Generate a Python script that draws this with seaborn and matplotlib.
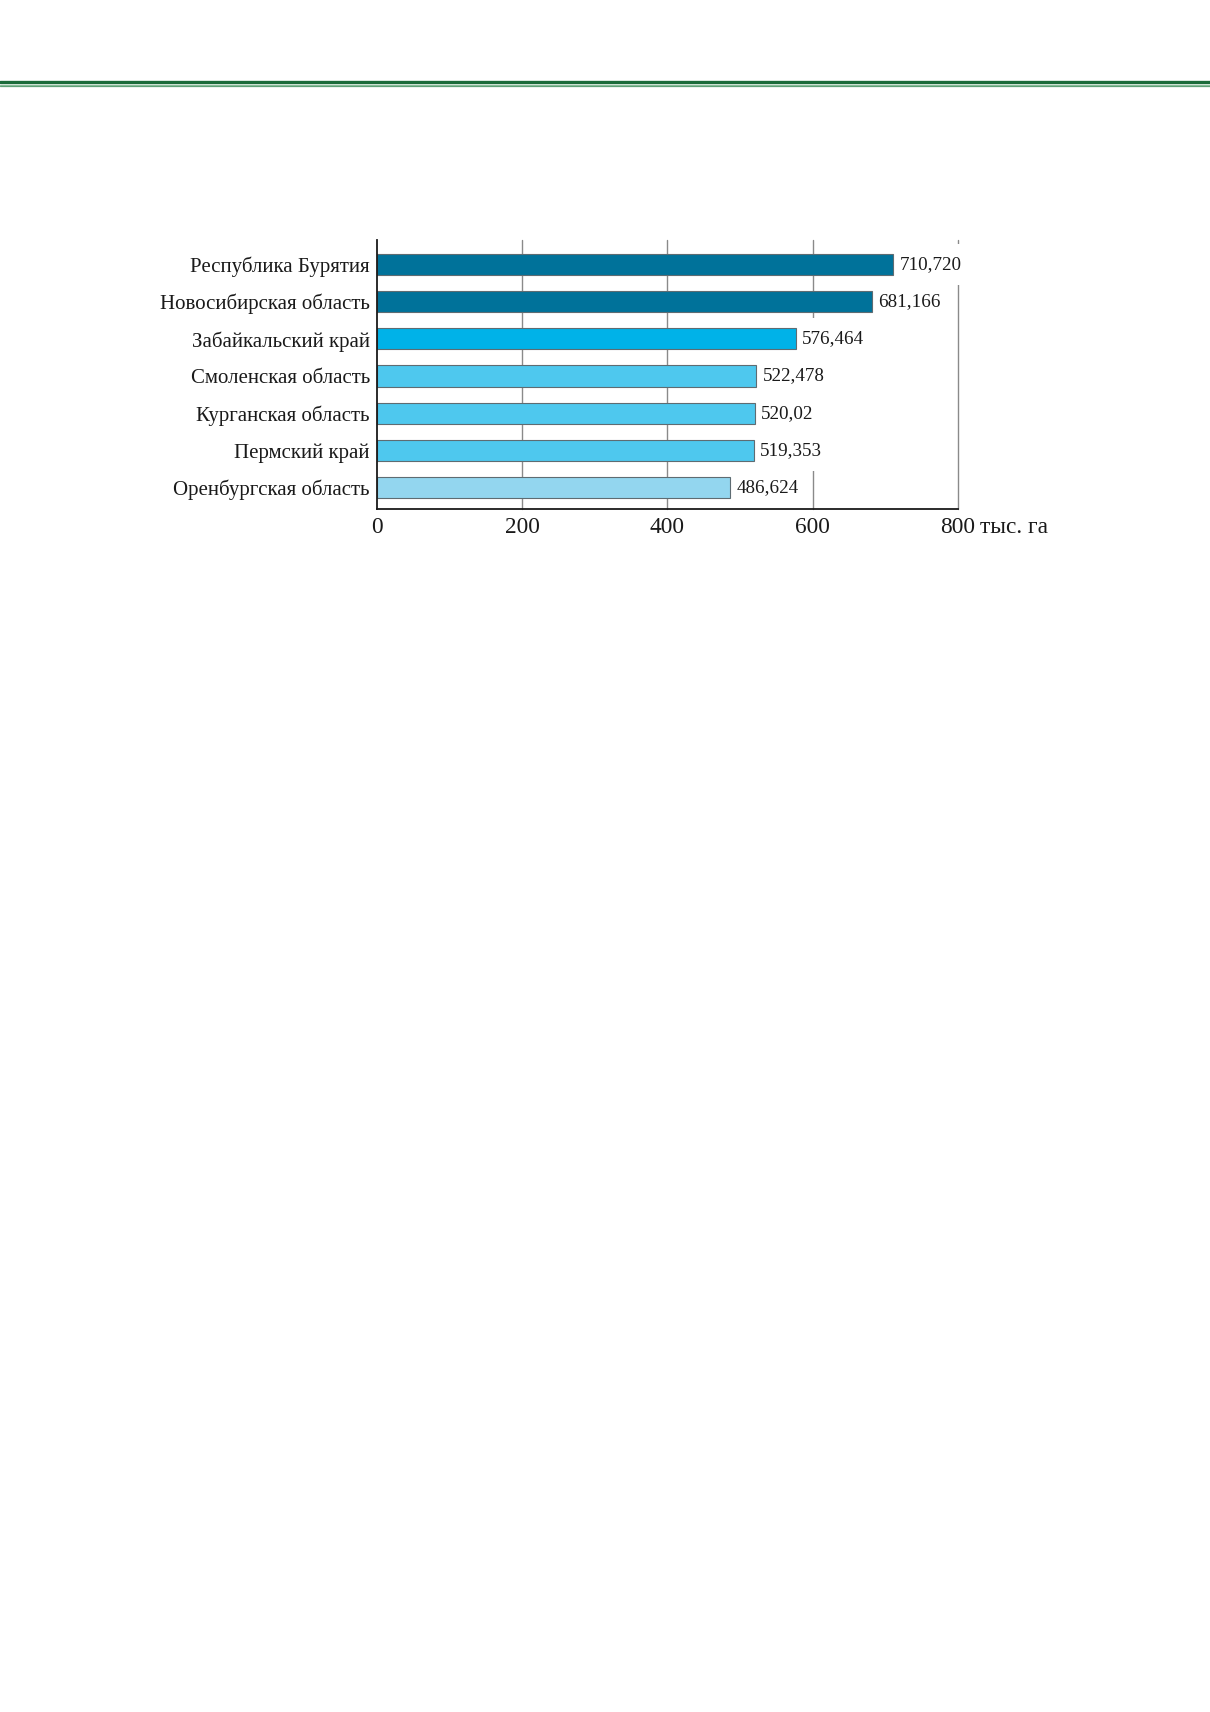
import matplotlib
matplotlib.use("Agg")
import matplotlib.pyplot as plt
import seaborn as sns
import pandas as pd

regions = [
    "Республика Бурятия",
    "Новосибирская область",
    "Забайкальский край",
    "Смоленская область",
    "Курганская область",
    "Пермский край",
    "Оренбургская область",
]
values = [710.720, 681.166, 576.464, 522.478, 520.02, 519.353, 486.624]
value_labels = ["710,720", "681,166", "576,464", "522,478", "520,02", "519,353", "486,624"]
bar_colors = ["#00729A", "#00729A", "#00B2E8", "#4EC8EE", "#4EC8EE", "#4EC8EE", "#93D6EF"]
x_ticks = [0, 200, 400, 600, 800]
x_unit = "тыс. га"

df = pd.DataFrame({"region": regions, "value": values})

sns.set_theme(style="white")
plt.rcParams["font.family"] = ["Liberation Serif", "DejaVu Serif"]

fig = plt.figure(figsize=(12.1, 17.12), dpi=100)
fig.patch.set_facecolor("white")

# green rule at the top of the page
fig.add_artist(plt.Line2D([0, 1], [1 - 81.5 / 1712] * 2, transform=fig.transFigure,
                          color="#1B6B3A", lw=2.4))
fig.add_artist(plt.Line2D([0, 1], [1 - 84.6 / 1712] * 2, transform=fig.transFigure,
                          color="#8CBF9C", lw=0.9))
fig.add_artist(plt.Line2D([0, 1], [1 - 86.3 / 1712] * 2, transform=fig.transFigure,
                          color="#5FA177", lw=0.9))

ax = fig.add_axes([376.7 / 1210, 1 - 509 / 1712, (958 - 376.7) / 1210, (509 - 240) / 1712])

sns.barplot(data=df, x="value", y="region", hue="region", palette=bar_colors,
            legend=False, orient="h", width=0.57, edgecolor="#5E6C72",
            linewidth=0.8, saturation=1, ax=ax, zorder=3)

ax.set_xlim(0, 800)
ax.set_ylim(6.58, -0.66)
ax.set_xticks(x_ticks)
ax.set_xticklabels([str(t) for t in x_ticks], fontsize=16.8)
ax.tick_params(axis="y", labelsize=15, length=0, pad=5, colors="#1a1a1a")
ax.tick_params(axis="x", length=0, pad=6, colors="#1a1a1a")
ax.set_xlabel("")
ax.set_ylabel("")

for t in x_ticks[1:]:
    ax.axvline(t, color="#8A8A8A", lw=1.0, zorder=1, clip_on=False)

for s in ["top", "right"]:
    ax.spines[s].set_visible(False)
for s in ["left", "bottom"]:
    ax.spines[s].set_color("#1a1a1a")
    ax.spines[s].set_linewidth(1.3)
    ax.spines[s].set_zorder(5)

# value labels sit on white boxes that hide the grid lines behind them
for i, (v, lab) in enumerate(zip(values, value_labels)):
    ax.annotate(lab, xy=(v, i), xytext=(4.5, 0), textcoords="offset points",
                ha="left", va="center", fontsize=13.7, color="#1a1a1a", zorder=2,
                bbox=dict(boxstyle="square,pad=0.65", fc="white", ec="none"))

ax.annotate(x_unit, xy=(800, 0), xycoords=("data", "axes fraction"),
            xytext=(16, -6), textcoords="offset points", ha="left", va="top",
            fontsize=16.8, color="#1a1a1a")

fig.savefig("out.png", dpi=100, facecolor="white")
